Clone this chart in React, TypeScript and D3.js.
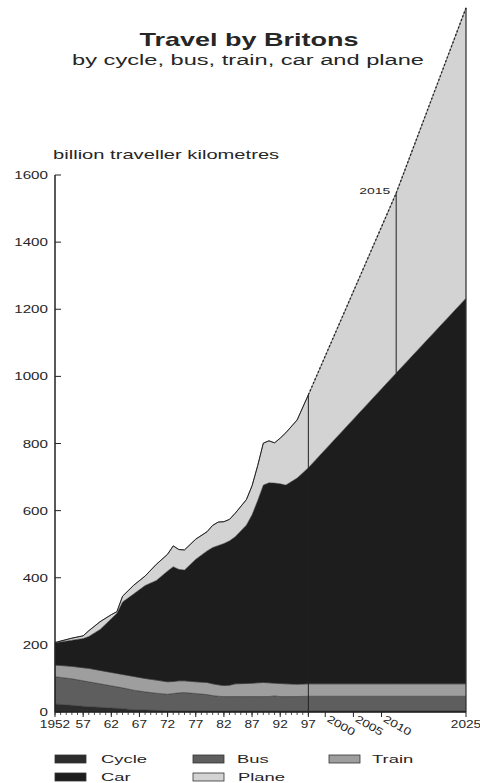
import { useEffect, useRef } from "react";
import * as d3 from "d3";

// years; 2012.6 is where the "2015" marker sits
const years = [1952, 1955, 1957, 1958, 1960, 1962, 1963, 1964, 1966, 1968, 1970, 1972, 1973, 1974, 1975, 1977, 1979, 1980, 1981, 1982, 1983, 1984, 1986, 1987, 1988, 1989, 1990, 1991, 1992, 1993, 1995, 1997, 2012.6, 2025];
const cycle = [24, 20, 17, 16, 14, 12, 11, 10, 7, 6, 5, 4, 4, 4, 4, 4, 4, 4, 4, 4, 4, 4, 4, 4, 4, 4, 4, 4, 4, 4, 4, 4, 4, 4];
const bus = [81, 79, 76, 74, 70, 66, 64, 62, 58, 54, 51, 49, 51, 53, 54, 51, 48, 45, 43, 42, 42, 42, 42, 42, 42, 42, 42, 44, 42, 42, 42, 43, 43, 43];
const train = [35, 37, 39, 40, 40, 40, 40, 40, 41, 40, 39, 37, 36, 36, 35, 35, 36, 35, 34, 33, 34, 38, 39, 40, 41, 42, 41, 38, 39, 38, 37, 37, 37, 37];
const car = [66, 78, 87, 95, 122, 160, 179, 216, 246, 277, 297, 330, 342, 332, 330, 365, 392, 406, 415, 423, 430, 438, 472, 502, 543, 588, 596, 596, 595, 592, 614, 644, 926, 1149];
const plane = [1, 6, 8, 17, 23, 12, 5, 17, 26, 28, 48, 50, 62, 59, 60, 60, 57, 66, 70, 65, 64, 70, 76, 86, 104, 125, 125, 120, 136, 156, 173, 217, 536, 865];

const modes = ["cycle", "bus", "train", "car", "plane"];
const modeColors = ["#2c2c2c", "#5e5e5e", "#9e9e9e", "#1d1d1d", "#d3d3d3"];
const legendLabels = ["Cycle", "Bus", "Train", "Car", "Plane"];

const yTicks = [0, 200, 400, 600, 800, 1000, 1200, 1400, 1600];
const xMajorYears = [1952, 1957, 1962, 1967, 1972, 1977, 1982, 1987, 1992, 1997];
const xMajorLabels = ["1952", "57", "62", "67", "72", "77", "82", "87", "92", "97"];
const xSlantYears = [2000, 2005, 2010];
const xEndYear = 2025;
const splitYear = 1997;
const markerYear = 2012.6;
const markerLabel = "2015";

const FONT = "'Liberation Sans', Arial, Helvetica, sans-serif";

// the original lettering is drawn wide, so each text gets a horizontal stretch
function addText(g: any, t: string, x: number, y: number, size: number, sx: number,
  anchor = "start", weight = "normal", rot = 0) {
  return g.append("text")
    .attr("transform", `translate(${x},${y}) rotate(${rot}) scale(${sx},1)`)
    .attr("text-anchor", anchor)
    .style("font-family", FONT)
    .style("font-size", `${size}px`)
    .style("font-weight", weight)
    .attr("fill", "#262626")
    .text(t);
}

export default function App() {
  const svgRef = useRef<SVGSVGElement | null>(null);

  useEffect(() => {
    const width = 480;
    const height = 783;
    const svg = d3.select(svgRef.current).attr("width", width).attr("height", height);
    svg.selectAll("*").remove();

    const rows = years.map((year, i) => ({
      year,
      cycle: cycle[i],
      bus: bus[i],
      train: train[i],
      car: car[i],
      plane: plane[i],
    }));

    const x = d3.scaleLinear().domain([1952, 2025]).range([55, 466]);
    const y = d3.scaleLinear().domain([0, 1600]).range([712, 175]);

    const stacked = d3.stack<any>().keys(modes)(rows);

    const area = d3.area<any>()
      .x(d => x(d.data.year))
      .y0(d => y(d[0]))
      .y1(d => y(d[1]));

    svg.append("g")
      .selectAll("path")
      .data(stacked)
      .join("path")
      .attr("d", area)
      .attr("fill", (_, i) => modeColors[i])
      .attr("stroke", "#333")
      .attr("stroke-width", 0.5);

    const top = stacked[stacked.length - 1];
    const topLine = d3.line<any>().x(d => x(d.data.year)).y(d => y(d[1]));

    svg.append("path")
      .attr("d", topLine(top.filter(d => d.data.year <= splitYear)))
      .attr("fill", "none")
      .attr("stroke", "#222")
      .attr("stroke-width", 1);

    svg.append("path")
      .attr("d", topLine(top.filter(d => d.data.year >= splitYear)))
      .attr("fill", "none")
      .attr("stroke", "#222")
      .attr("stroke-width", 1.3)
      .attr("stroke-dasharray", "2,2");

    // vertical markers
    const totalAt = (yr: number) => top.find(d => d.data.year === yr)!;
    const carTop = (yr: number) => stacked[3].find(d => d.data.year === yr)!;

    svg.append("line")
      .attr("x1", x(splitYear)).attr("x2", x(splitYear))
      .attr("y1", y(0)).attr("y2", y(totalAt(splitYear)[1]))
      .attr("stroke", "#222").attr("stroke-width", 1);

    svg.append("line")
      .attr("x1", x(markerYear)).attr("x2", x(markerYear))
      .attr("y1", y(carTop(markerYear)[1])).attr("y2", y(totalAt(markerYear)[1]))
      .attr("stroke", "#222").attr("stroke-width", 1);

    addText(svg, markerLabel, x(markerYear) - 6, y(totalAt(markerYear)[1]) + 1, 9, 1.55, "end");

    svg.append("line")
      .attr("x1", x(xEndYear)).attr("x2", x(xEndYear))
      .attr("y1", y(0)).attr("y2", y(totalAt(xEndYear)[1]))
      .attr("stroke", "#333").attr("stroke-width", 1);

    // y axis
    const yAxis = svg.append("g");
    yAxis.append("line")
      .attr("x1", 55).attr("x2", 55)
      .attr("y1", y(0)).attr("y2", y(1600))
      .attr("stroke", "#222").attr("stroke-width", 1.5);
    yAxis.selectAll(".tick")
      .data(yTicks)
      .join("line")
      .attr("x1", 55).attr("x2", 61)
      .attr("y1", d => y(d)).attr("y2", d => y(d))
      .attr("stroke", "#222").attr("stroke-width", 1);
    yTicks.forEach(v => addText(yAxis, String(v), 48, y(v) + 4, 11, 1.38, "end"));

    // x axis
    const xAxis = svg.append("g");
    xAxis.append("line")
      .attr("x1", 55).attr("x2", 466)
      .attr("y1", y(0)).attr("y2", y(0))
      .attr("stroke", "#222").attr("stroke-width", 1.5);
    xAxis.selectAll(".minor")
      .data(d3.range(1952, splitYear + 1))
      .join("line")
      .attr("x1", d => x(d)).attr("x2", d => x(d))
      .attr("y1", y(0)).attr("y2", y(0) + 3)
      .attr("stroke", "#222").attr("stroke-width", 0.8);
    xAxis.selectAll(".major")
      .data([...xMajorYears, ...xSlantYears, xEndYear])
      .join("line")
      .attr("x1", d => x(d)).attr("x2", d => x(d))
      .attr("y1", y(0)).attr("y2", y(0) + 5)
      .attr("stroke", "#222").attr("stroke-width", 1);
    xMajorYears.forEach((yr, i) => addText(xAxis, xMajorLabels[i], x(yr), 728, 10.5, 1.3, "middle"));
    xSlantYears.forEach(yr => addText(xAxis, String(yr), x(yr) + 1, y(0) + 9, 10.5, 1.3, "start", "normal", 30));
    addText(xAxis, String(xEndYear), x(xEndYear), 728, 10.5, 1.3, "middle");

    // titles
    addText(svg, "Travel by Britons", 249, 46, 18, 1.5, "middle", "bold");
    addText(svg, "by cycle, bus, train, car and plane", 248, 65, 14.5, 1.63, "middle");
    addText(svg, "billion traveller kilometres", 53, 159, 12, 1.68);

    // legend
    const legendPos = [
      { x: 55, y: 755, tx: 101 },
      { x: 193, y: 755, tx: 237 },
      { x: 329, y: 755, tx: 372 },
      { x: 55, y: 773, tx: 101 },
      { x: 193, y: 773, tx: 238 },
    ];
    const legend = svg.append("g");
    legendPos.forEach((p, i) => {
      legend.append("rect")
        .attr("x", p.x).attr("y", p.y)
        .attr("width", 31).attr("height", 8)
        .attr("fill", modeColors[i])
        .attr("stroke", "#333").attr("stroke-width", 0.8);
      addText(legend, legendLabels[i], p.tx, p.y + 7.5, 11.5, 1.6);
    });
  }, []);

  return (
    <div style={{ position: "absolute", left: 0, top: 0, width: 480, height: 783 }}>
      <svg ref={svgRef}></svg>
    </div>
  );
}
